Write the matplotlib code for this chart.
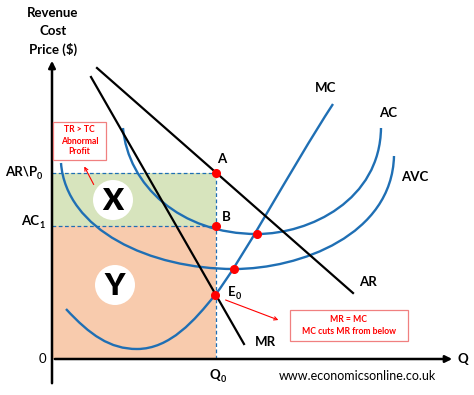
import numpy as np
import matplotlib
matplotlib.use('Agg')
import matplotlib.pyplot as plt
from matplotlib.path import Path
from matplotlib.patches import PathPatch, Rectangle, Circle, FancyArrowPatch

plt.rcParams['font.family'] = ['Lato', 'DejaVu Sans']

# ---- data (Q along x, price along y, origin at axis corner) ----
q0 = 164
p0 = 186
ac1 = 133

# straight demand-side lines: (Q, P) end points
ar_q = [45, 301]
ar_p = [291, 66]
mr_q = [39, 192]
mr_p = [282, 15]

# cost curves as cubic bezier control points
mc_q = [14, 38, 58, 85, 118, 143, 163, 188, 238, 281]
mc_p = [50, 24, 10, 10, 10, 39, 64, 95, 189, 255]
ac_q = [71, 76, 128, 205, 258, 328, 329]
ac_p = [231, 174, 125, 125, 125, 159, 231]
avc_q = [9, 14, 98, 182, 248, 340, 342]
avc_p = [196, 129, 90, 90, 90, 124, 203]

# key points: A, B, AC min, AVC min, E0
pts_q = [164, 164, 205, 182, 163]
pts_p = [186, 133, 125, 90, 64]

blue = '#1f6fb4'
red = '#ff0000'

fig = plt.figure(figsize=(4.74, 3.95), dpi=100)
ax = fig.add_axes([0, 0, 1, 1])
ax.set_xlim(-52, 422)
ax.set_ylim(-36, 359)
ax.axis('off')

# profit / cost areas
ax.add_patch(Rectangle((0, ac1), q0, p0 - ac1, facecolor='#d7e4bd', edgecolor='none', zorder=1))
ax.add_patch(Rectangle((0, 0), q0, ac1, facecolor='#f8cbad', edgecolor='none', zorder=1))

# dashed guides
ax.plot([0, q0], [p0, p0], ls='--', color=blue, lw=0.9, dashes=(3, 2), zorder=2)
ax.plot([0, q0], [ac1, ac1], ls='--', color=blue, lw=0.9, dashes=(3, 2), zorder=2)
ax.plot([q0, q0], [0, p0], ls='--', color=blue, lw=0.9, dashes=(3, 2), zorder=2)

# X and Y circles
ax.add_patch(Circle((61, 159), 20, facecolor='white', edgecolor='none', zorder=2))
ax.add_patch(Circle((63, 74), 20, facecolor='white', edgecolor='none', zorder=2))
ax.text(61, 158, 'X', fontsize=22, fontweight='heavy', ha='center', va='center', zorder=3)
ax.text(63, 73, 'Y', fontsize=22, fontweight='heavy', ha='center', va='center', zorder=3)


def bezier(qs, ps):
    verts = list(zip(qs, ps))
    codes = [Path.MOVETO] + [Path.CURVE4] * (len(verts) - 1)
    return PathPatch(Path(verts, codes), facecolor='none', edgecolor=blue, lw=1.7, zorder=4)


ax.add_patch(bezier(mc_q, mc_p))
ax.add_patch(bezier(ac_q, ac_p))
ax.add_patch(bezier(avc_q, avc_p))

ax.plot(ar_q, ar_p, color='black', lw=1.6, zorder=4)
ax.plot(mr_q, mr_p, color='black', lw=1.6, zorder=4)

ax.plot(pts_q, pts_p, 'o', color=red, ms=5.5, zorder=6)

# axes with arrows
ax.annotate('', xy=(0, 301), xytext=(0, -27),
            arrowprops=dict(arrowstyle='-|>', color='black', lw=1.8, mutation_scale=10), zorder=5)
ax.annotate('', xy=(403, 0), xytext=(0, 0),
            arrowprops=dict(arrowstyle='-|>', color='black', lw=1.8, mutation_scale=10), zorder=5)

lab = dict(fontsize=9.5, fontweight='bold', zorder=7)


def sub_label(x, y, main, sub, ha='left'):
    t = ax.text(x, y, main, ha=ha, va='center', **lab)
    ax.annotate(sub, xy=(1.0, 0.1), xycoords=t, ha='left', va='center',
                fontsize=6.5, fontweight='bold')
    return t


# axis titles / labels
ax.text(1, 346, 'Revenue', ha='center', va='center', **lab)
ax.text(1, 328, 'Cost', ha='center', va='center', **lab)
ax.text(1, 310, 'Price ($)', ha='center', va='center', **lab)
sub_label(-47, 187, 'AR\\P', '0')
sub_label(-31, 138, 'AC', '1')
ax.text(-10, 0, '0', ha='center', va='center', fontsize=9.5, zorder=7)
sub_label(158, -16, 'Q', '0')
ax.text(411, 0, 'Q', ha='center', va='center', **lab)

ax.text(274, 271, 'MC', ha='center', va='center', **lab)
ax.text(336, 246, 'AC', ha='center', va='center', **lab)
ax.text(363, 182, 'AVC', ha='center', va='center', **lab)
ax.text(316, 77, 'AR', ha='center', va='center', **lab)
ax.text(213, 17, 'MR', ha='center', va='center', **lab)
ax.text(170, 200, 'A', ha='center', va='center', **lab)
ax.text(174, 142, 'B', ha='center', va='center', **lab)
sub_label(176, 67, 'E', '0')

ax.text(305, -17, 'www.economicsonline.co.uk', ha='center', va='center', fontsize=9)

# annotation boxes
ax.add_patch(Rectangle((1, 199), 53, 38, facecolor='white', edgecolor='#f08080', lw=0.9, zorder=7))
note = dict(color=red, fontsize=6.2, fontweight='bold', ha='center', va='center', zorder=8)
ax.text(27.5, 229, 'TR > TC', **note)
ax.text(27.5, 218, 'Abnormal', **note)
ax.text(27.5, 207, 'Profit', **note)
ax.add_patch(FancyArrowPatch((43, 172), (31, 195), arrowstyle='->', color=red, lw=0.8,
                             mutation_scale=6, zorder=8))

ax.add_patch(Rectangle((238, 18), 118, 31, facecolor='white', edgecolor='#f08080', lw=0.9, zorder=7))
ax.text(297, 39, 'MR = MC', **note)
ax.text(297, 27, 'MC cuts MR from below', **note)
ax.add_patch(FancyArrowPatch((171, 60), (229, 38), arrowstyle='->', color=red, lw=0.8,
                             mutation_scale=6, zorder=8))

plt.savefig('out.png', dpi=100)
